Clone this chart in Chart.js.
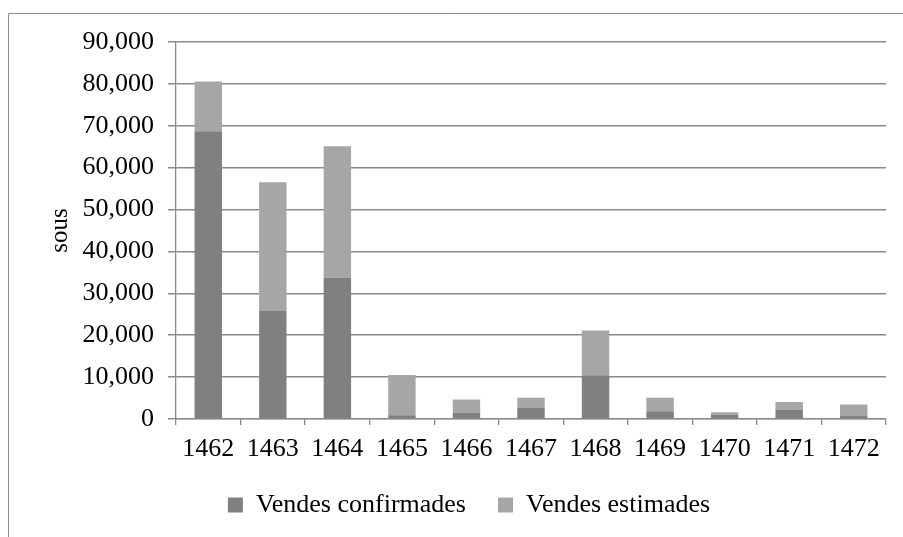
<!DOCTYPE html>
<html>
<head>
<meta charset="utf-8">
<script src="https://cdn.jsdelivr.net/npm/chart.js@4.4.1/dist/chart.umd.min.js"></script>
<style>
  html, body { margin: 0; padding: 0; background: #fff; }
  canvas { display: block; }
</style>
</head>
<body>
<canvas id="salesChart" width="903" height="537"></canvas>
<script>
// years on the x axis
var years = ['1462', '1463', '1464', '1465', '1466', '1467', '1468', '1469', '1470', '1471', '1472']
// sous
var confirmed = [68700, 25900, 33700, 900, 1450, 2650, 10450, 1850, 1000, 2250, 700]
var estimated = [11850, 30600, 31400, 9600, 3200, 2450, 10700, 3250, 600, 1800, 2750]
var yTicks = [0, 10000, 20000, 30000, 40000, 50000, 60000, 70000, 80000, 90000]

var serif = "'Liberation Serif', 'Times New Roman', serif"
var gridGrey = '#898989'

// grey frame round the chart, open to the right and bottom
var framePlugin = {
    id: 'frame',
    beforeDraw: function (chart) {
        var c = chart.ctx
        c.save()
        c.strokeStyle = '#8c8c8c'
        c.lineWidth = 1
        c.beginPath()
        c.moveTo(8.5, chart.height)
        c.lineTo(8.5, 13.5)
        c.lineTo(chart.width, 13.5)
        c.stroke()
        c.restore()
    }
}

var ctx = document.getElementById('salesChart')
var chart = new Chart(ctx, {
    type: 'bar',
    data: {
        labels: years,
        datasets: [{
            label: 'Vendes confirmades',
            backgroundColor: '#808080',
            data: confirmed
        }, {
            label: 'Vendes estimades',
            backgroundColor: '#a6a6a6',
            data: estimated
        }]
    },
    options: {
        responsive: false,
        animation: false,
        layout: { padding: { left: 52, right: 17, top: 42, bottom: 9 } },
        datasets: {
            bar: { categoryPercentage: 1, barPercentage: 0.425 }
        },
        scales: {
            x: {
                stacked: true,
                grid: { drawOnChartArea: false, drawTicks: true, tickLength: 6, color: gridGrey, lineWidth: 1.3 },
                border: { display: true, color: gridGrey, width: 1.3 },
                ticks: { color: '#000', padding: 9, font: { family: serif, size: 26 } },
                afterFit: function (scale) { scale.height = 41 }
            },
            y: {
                stacked: true,
                min: 0,
                max: 90000,
                afterBuildTicks: function (scale) {
                    scale.ticks = yTicks.map(function (v) { return { value: v } })
                },
                grid: { color: gridGrey, lineWidth: 1.5, tickLength: 8 },
                border: { display: true, color: gridGrey, width: 1.3 },
                ticks: {
                    color: '#000',
                    padding: 14,
                    font: { family: serif, size: 26 },
                    callback: function (v) { return v.toLocaleString('en-US') }
                },
                title: {
                    display: true,
                    text: 'sous',
                    color: '#000',
                    font: { family: serif, size: 25 },
                    padding: { top: -7, bottom: 0 }
                },
                afterFit: function (scale) { scale.width = 124 }
            }
        },
        plugins: {
            legend: {
                position: 'bottom',
                maxHeight: 78,
                labels: {
                    color: '#000',
                    boxWidth: 15,
                    boxHeight: 15,
                    padding: 32,
                    font: { family: serif, size: 26 }
                }
            },
            tooltip: { enabled: false }
        }
    },
    plugins: [framePlugin]
})
</script>
</body>
</html>
